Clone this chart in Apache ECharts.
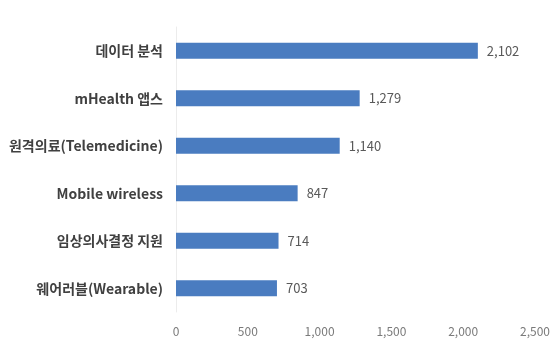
<!DOCTYPE html>
<html><head><meta charset="utf-8">
<script src="https://cdn.jsdelivr.net/npm/echarts@6/dist/echarts.min.js"></script>
<style>html,body{margin:0;padding:0;background:#fff}#c{width:560px;height:345px}</style>
</head><body><div id="c"></div>
<script>
var categories = ['데이터 분석','mHealth 앱스','원격의료(Telemedicine)','Mobile wireless','임상의사결정 지원','웨어러블(Wearable)'];
var values = [2102,1279,1140,847,714,703];
var ticks = [0,500,1000,1500,2000,2500];

var chart = echarts.init(document.getElementById('c'));
chart.setOption({
  animation:false,
  grid:{left:176,right:25,top:27,bottom:33,containLabel:false},
  xAxis:{type:'value',min:ticks[0],max:ticks[ticks.length-1],interval:500,
    axisLine:{show:false},axisTick:{show:false},splitLine:{show:false},
    axisLabel:{color:'#7a7a7a',fontSize:12,fontFamily:'"Noto Sans CJK KR", sans-serif',margin:13,
      formatter:function(v){return v.toLocaleString('en-US');}}},
  yAxis:{type:'category',data:categories.slice().reverse(),
    axisLine:{show:true,lineStyle:{color:'#ececec'}},axisTick:{show:false},
    axisLabel:{color:'#404040',fontSize:14,fontWeight:'bold',fontFamily:'"Noto Sans CJK KR", sans-serif',margin:13}},
  series:[{type:'bar',data:values.slice().reverse(),barWidth:16,
    itemStyle:{color:'#4a7cc0'},
    label:{show:true,position:'right',distance:9,color:'#595959',fontSize:13,fontFamily:'"Noto Sans CJK KR", sans-serif',
      formatter:function(p){return p.value.toLocaleString('en-US');}}}]
});
</script></body></html>
